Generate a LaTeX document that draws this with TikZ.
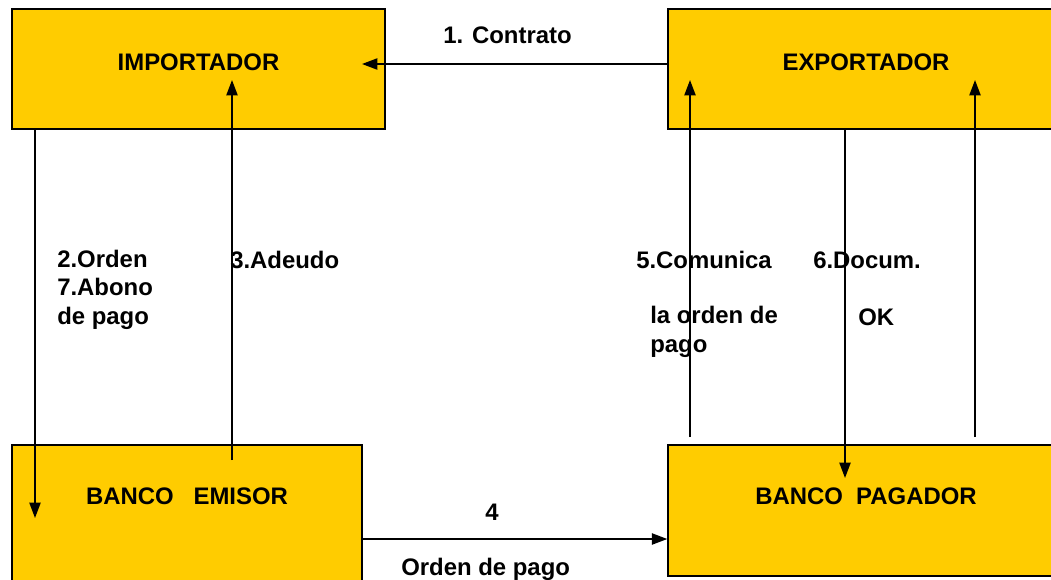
\documentclass[tikz,border=0pt]{standalone}
\usepackage{fontspec}
\setmainfont{Liberation Sans}
\usetikzlibrary{arrows.meta}
\definecolor{oro}{HTML}{FFCC00}
\tikzset{
  caja/.style={draw,line width=1pt,fill=oro,font=\fontsize{17}{20}\selectfont\bfseries,inner sep=0pt},
  flecha/.style={line width=1.2pt,-{Triangle[length=11pt,width=8pt]}},
  etiq/.style={font=\fontsize{17}{20}\selectfont\bfseries,inner sep=0pt,anchor=base west,align=left}
}
\begin{document}
\begin{tikzpicture}[x=0.025cm,y=-0.025cm]

      \useasboundingbox (0,0) rectangle (1051,579);
      \clip (0,0) rectangle (1051,579);

      \begin{scope}[every node/.style={caja}]
        \node[minimum width=373*0.025cm,minimum height=120*0.025cm,text depth=10pt] (imp) at (198.5,69) {IMPORTADOR};
        \node[minimum width=396*0.025cm,minimum height=120*0.025cm,text depth=10pt] (exp) at (866,69) {EXPORTADOR};
        \node[minimum width=350*0.025cm,minimum height=144*0.025cm,text depth=30pt] (emi) at (187,517) {BANCO\ \ \ EMISOR};
        \node[minimum width=396*0.025cm,minimum height=131*0.025cm,text depth=20pt] (pag) at (866,510.5) {BANCO\ \ PAGADOR};
      \end{scope}

      % extremos de las flechas dentro de las cajas
      \coordinate (contratofin) at (362,64);
      \coordinate (ordenfin) at (35,518);
      \coordinate (adeudoini) at (232,460);
      \coordinate (adeudofin) at (232,80);
      \coordinate (comunicaini) at (690,437);
      \coordinate (comunicafin) at (690,80);
      \coordinate (documfin) at (845,478);
      \coordinate (okini) at (975,437);
      \coordinate (okfin) at (975,80);
      \coordinate (pagoini) at (362,539);

      \begin{scope}[every path/.style={flecha}]
        \draw (exp.west |- contratofin) -- (contratofin);
        \draw (imp.south -| ordenfin) -- (ordenfin);
        \draw (adeudoini) -- (adeudofin);
        \draw (comunicaini) -- (comunicafin);
        \draw (exp.south -| documfin) -- (documfin);
        \draw (okini) -- (okfin);
        \draw (pagoini) -- (pag.west |- pagoini);
      \end{scope}

      \begin{scope}[every node/.style={etiq}]
        \node (contrato) at (443,43) {1. Contrato};
        \node (orden) at (57,324) {2.Orden\\7.Abono\\de pago};
        \node (adeudo) at (230,268) {3.Adeudo};
        \node (comunica) at (636,268) {5.Comunica};
        \node (laorden) at (650,352) {la orden de\\pago};
        \node (docum) at (813,268) {6.Docum.};
        \node (ok) at (858,325) {OK};
        \node (cuatro) at (485,520) {4};
        \node (ordenpago) at (401,575) {Orden de pago};
      \end{scope}

    \end{tikzpicture}
\end{document}
